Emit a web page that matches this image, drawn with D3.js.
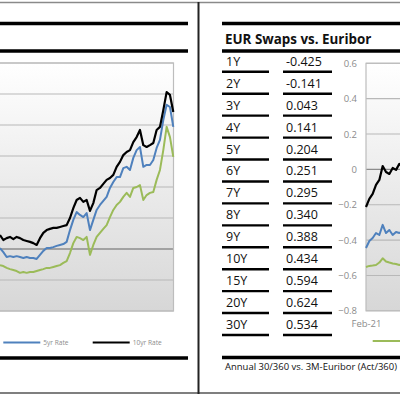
<!DOCTYPE html>
<html>
<head>
<meta charset="utf-8">
<script src="https://cdn.jsdelivr.net/npm/d3@7"></script>
<style>
  html, body { margin: 0; padding: 0; background: #fff; }
  svg { display: block; font-family: "Open Sans", "Noto Sans", sans-serif; }
</style>
</head>
<body>
<div id="viz"></div>
<script>
// left panel: rate history (only the tail of the chart is in view)
const leftNames = ["2yr Rate", "5yr Rate", "10yr Rate"];
const leftTwoYr = [-0.52, -0.55, -0.61, -0.65, -0.68, -0.71, -0.77, -0.74, -0.77, -0.74, -0.74, -0.71, -0.68,
  -0.65, -0.61, -0.61, -0.58, -0.55, -0.52, -0.45, -0.39, -0.13, 0.19, 0.39, 0.35, 0.29, 0.39, -0.19, 0.13,
  0.39, 0.52, 0.65, 0.77, 1.03, 1.26, 1.42, 1.52, 1.68, 1.81, 1.68, 1.97, 2.00, 2.06, 1.58, 1.74, 1.81, 1.84,
  2.23, 2.55, 3.19, 3.94, 3.61, 2.97];
const leftFiveYr = [0.03, -0.10, -0.26, -0.23, -0.26, -0.23, -0.26, -0.29, -0.26, -0.29, -0.29, -0.32, -0.19,
  -0.06, 0.03, 0.03, 0.06, 0.10, 0.13, 0.16, 0.23, 0.61, 0.94, 1.19, 1.10, 1.03, 1.16, 0.61, 0.94, 1.26, 1.42,
  1.55, 1.68, 1.97, 2.16, 2.32, 2.32, 2.61, 2.65, 2.55, 2.94, 3.19, 3.29, 2.65, 2.71, 2.71, 2.87, 3.26, 3.52,
  4.16, 4.65, 4.58, 3.94];
const leftTenYr = [0.45, 0.29, 0.35, 0.39, 0.32, 0.39, 0.35, 0.29, 0.26, 0.23, 0.19, 0.13, 0.35, 0.52, 0.61,
  0.65, 0.68, 0.68, 0.71, 0.74, 0.77, 1.00, 1.32, 1.58, 1.65, 1.52, 1.58, 1.23, 1.48, 1.90, 1.97, 2.10, 2.23,
  2.29, 2.39, 2.65, 2.81, 3.03, 3.13, 3.19, 3.45, 3.61, 3.84, 3.35, 3.29, 3.35, 3.42, 3.84, 3.94, 4.48, 5.06,
  4.97, 4.42];
const leftYTicks = [-2, -1, 0, 1, 2, 3, 4, 5, 6];

// right panel: table
const swapTenors = ["1Y", "2Y", "3Y", "4Y", "5Y", "6Y", "7Y", "8Y", "9Y", "10Y", "15Y", "20Y", "30Y"];
const swapRates = ["-0.425", "-0.141", "0.043", "0.141", "0.204", "0.251", "0.295", "0.340", "0.388",
  "0.434", "0.594", "0.624", "0.534"];

// right panel: swap history (start of the chart only)
const rightNames = ["2Y", "5Y", "10Y"];
const rightTwoY = [-0.552, -0.546, -0.544, -0.541, -0.527, -0.503, -0.521, -0.527, -0.532, -0.535, -0.541, -0.535];
const rightFiveY = [-0.445, -0.405, -0.388, -0.360, -0.371, -0.314, -0.360, -0.343, -0.371, -0.354, -0.360, -0.348];
const rightTenY = [-0.213, -0.167, -0.139, -0.088, -0.060, 0.019, -0.015, -0.026, 0.008, -0.003, 0.031, 0.014];
const rightYTicks = [-0.8, -0.6, -0.4, -0.2, 0, 0.2, 0.4, 0.6];
const rightXTicks = ["Feb-21"];

const lineColors = ["#9bbb59", "#4f81bd", "#000000"];

const svg = d3.select("#viz").append("svg")
  .attr("width", 400)
  .attr("height", 400);

const defs = svg.append("defs");
const grad = defs.append("linearGradient")
  .attr("id", "plotFill")
  .attr("x1", 0).attr("y1", 0).attr("x2", 0).attr("y2", 1);
grad.append("stop").attr("offset", "0%").attr("stop-color", "#ffffff");
grad.append("stop").attr("offset", "100%").attr("stop-color", "#d7d7d7");

// frame
svg.append("line").attr("x1", 0).attr("x2", 400).attr("y1", 2.5).attr("y2", 2.5)
  .attr("stroke", "#8a8a8a").attr("stroke-width", 1.5);
svg.append("line").attr("x1", 0).attr("x2", 400).attr("y1", 393).attr("y2", 393)
  .attr("stroke", "#555").attr("stroke-width", 1.5);
svg.append("line").attr("x1", 198.5).attr("x2", 198.5).attr("y1", 2).attr("y2", 394)
  .attr("stroke", "#222").attr("stroke-width", 2);

function thickRule(x1, x2, y) {
  svg.append("line").attr("x1", x1).attr("x2", x2).attr("y1", y).attr("y2", y)
    .attr("stroke", "#000").attr("stroke-width", 3.4);
}

// only legend labels that fall inside the window are written
const inView = x => x >= 0 && x <= 370;

// ---------- left panel ----------
thickRule(0, 188, 23.5);
thickRule(0, 188, 51);
thickRule(0, 188, 358);

const lx = d3.scaleLinear().domain([0, leftTenYr.length - 1]).range([0, 173.3]);
const ly = d3.scaleLinear().domain([-2, 6]).range([311, 63]);
const leftPlot = { x0: -60, x1: 173.5 };

svg.append("rect")
  .attr("x", leftPlot.x0).attr("y", ly(6))
  .attr("width", leftPlot.x1 - leftPlot.x0).attr("height", ly(-2) - ly(6))
  .attr("fill", "url(#plotFill)");

svg.append("g").selectAll("line")
  .data(leftYTicks)
  .join("line")
    .attr("x1", leftPlot.x0).attr("x2", leftPlot.x1)
    .attr("y1", d => ly(d)).attr("y2", d => ly(d))
    .attr("stroke", d => d === 0 ? "#8c8c8c" : "#b8b8b8")
    .attr("stroke-width", d => d === 0 ? 1.3 : 1.1);

svg.append("rect")
  .attr("x", leftPlot.x0).attr("y", ly(6))
  .attr("width", leftPlot.x1 - leftPlot.x0).attr("height", ly(-2) - ly(6))
  .attr("fill", "none").attr("stroke", "#bdbdbd").attr("stroke-width", 1.2);

const leftLine = d3.line().x((d, i) => lx(i)).y(d => ly(d));
svg.append("g").selectAll("path")
  .data([leftTwoYr, leftFiveYr, leftTenYr])
  .join("path")
    .attr("d", leftLine)
    .attr("fill", "none")
    .attr("stroke", (d, i) => lineColors[i])
    .attr("stroke-width", (d, i) => i === 2 ? 2.2 : 2)
    .attr("stroke-linejoin", "round");

const leftLegX = i => 3.3 + (i - 1) * 89.4;
const leftLegItem = svg.append("g").selectAll("g")
  .data(leftNames)
  .join("g")
    .attr("transform", (d, i) => `translate(${leftLegX(i)},342.5)`);
leftLegItem.append("line")
  .attr("x1", 0).attr("x2", 37).attr("y1", 0).attr("y2", 0)
  .attr("stroke", (d, i) => lineColors[i]).attr("stroke-width", 2.2);
leftLegItem.filter((d, i) => inView(leftLegX(i)))
  .append("text")
  .attr("x", 40).attr("y", 2.4)
  .attr("fill", "#8c8c8c").style("font-size", "6.6px")
  .text(d => d);

// ---------- right panel ----------
thickRule(222, 400, 23.5);
thickRule(222, 400, 51);
thickRule(222, 400, 357.5);

svg.append("text")
  .attr("x", 225).attr("y", 43.5)
  .style("font-size", "13.4px").style("font-weight", "bold")
  .attr("fill", "#111")
  .text("EUR Swaps vs. Euribor");

const rowY = d3.scaleLinear().domain([0, swapTenors.length - 1]).range([71.8, 335]);
const rows = svg.append("g").selectAll("g")
  .data(swapTenors)
  .join("g")
    .attr("transform", (d, i) => `translate(0,${rowY(i)})`);
rows.append("line")
  .attr("x1", 222).attr("x2", 269).attr("y1", 0).attr("y2", 0)
  .attr("stroke", "#000").attr("stroke-width", 2.4);
rows.append("line")
  .attr("x1", 283).attr("x2", 332).attr("y1", 0).attr("y2", 0)
  .attr("stroke", "#000").attr("stroke-width", 2.4);
rows.append("text")
  .attr("x", 226).attr("y", -6)
  .style("font-size", "12.5px").attr("fill", "#111")
  .text(d => d);
rows.append("text")
  .attr("x", 286).attr("y", -6)
  .style("font-size", "12.5px").attr("fill", "#111")
  .text((d, i) => swapRates[i]);

svg.append("text")
  .attr("x", 225).attr("y", 370)
  .attr("textLength", 172).attr("lengthAdjust", "spacingAndGlyphs")
  .style("font-size", "9.6px").attr("fill", "#111")
  .text("Annual 30/360 vs. 3M-Euribor (Act/360)");

const rx = d3.scaleLinear().domain([0, rightTenY.length - 1]).range([366, 402.7]);
const ry = d3.scaleLinear().domain([-0.8, 0.6]).range([310.8, 63.3]);
const rightPlot = { x0: 366, x1: 460 };

svg.append("rect")
  .attr("x", rightPlot.x0).attr("y", ry(0.6))
  .attr("width", rightPlot.x1 - rightPlot.x0).attr("height", ry(-0.8) - ry(0.6))
  .attr("fill", "url(#plotFill)");

svg.append("g").selectAll("line")
  .data(rightYTicks)
  .join("line")
    .attr("x1", rightPlot.x0).attr("x2", rightPlot.x1)
    .attr("y1", d => ry(d)).attr("y2", d => ry(d))
    .attr("stroke", d => d === 0 ? "#8c8c8c" : "#b8b8b8")
    .attr("stroke-width", d => d === 0 ? 1.3 : 1.1);

svg.append("rect")
  .attr("x", rightPlot.x0).attr("y", ry(0.6))
  .attr("width", rightPlot.x1 - rightPlot.x0).attr("height", ry(-0.8) - ry(0.6))
  .attr("fill", "none").attr("stroke", "#bdbdbd").attr("stroke-width", 1.2);

const yAxis = svg.append("g")
  .attr("transform", `translate(${rightPlot.x0},0)`)
  .call(d3.axisLeft(ry).tickValues(rightYTicks).tickSize(0).tickPadding(9)
    .tickFormat(d => d === 0 ? "0" : d3.format(".1f")(d)));
yAxis.select(".domain").remove();
yAxis.selectAll("text")
  .attr("fill", "#8c8c8c")
  .style("font-family", "\"Open Sans\", sans-serif")
  .style("font-size", "9.5px");

const xAxis = svg.append("g")
  .attr("transform", `translate(0,${ry(-0.8)})`)
  .call(d3.axisBottom(rx).tickValues([0]).tickSize(0).tickPadding(9)
    .tickFormat((d, i) => rightXTicks[i]));
xAxis.select(".domain").remove();
xAxis.selectAll("text")
  .attr("fill", "#8c8c8c")
  .style("font-family", "\"Open Sans\", sans-serif")
  .style("font-size", "9.5px");

const rightLine = d3.line().x((d, i) => rx(i)).y(d => ry(d));
svg.append("g").selectAll("path")
  .data([rightTwoY, rightFiveY, rightTenY])
  .join("path")
    .attr("d", rightLine)
    .attr("fill", "none")
    .attr("stroke", (d, i) => lineColors[i])
    .attr("stroke-width", (d, i) => i === 2 ? 2.2 : 2)
    .attr("stroke-linejoin", "round");

const rightLegX = i => 372.7 + i * 89.4;
const rightLegItem = svg.append("g").selectAll("g")
  .data(rightNames)
  .join("g")
    .attr("transform", (d, i) => `translate(${rightLegX(i)},341)`);
rightLegItem.append("line")
  .attr("x1", 0).attr("x2", 37).attr("y1", 0).attr("y2", 0)
  .attr("stroke", (d, i) => lineColors[i]).attr("stroke-width", 2.2);
rightLegItem.filter((d, i) => inView(rightLegX(i)))
  .append("text")
  .attr("x", 40).attr("y", 2.4)
  .attr("fill", "#8c8c8c").style("font-size", "6.6px")
  .text(d => d);
</script>
</body>
</html>
